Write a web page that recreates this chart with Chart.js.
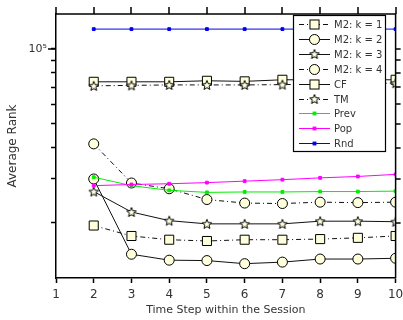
<!DOCTYPE html>
<html>
<head>
<meta charset="utf-8">
<script src="https://cdn.jsdelivr.net/npm/chart.js@4/dist/chart.umd.min.js"></script>
<style>
  html, body { margin: 0; padding: 0; background: #fff; }
  #wrap { width: 403px; height: 320px; }
</style>
</head>
<body>
<div id="wrap"><canvas id="chart" width="403" height="320"></canvas></div>
<script>
// Data
const steps = [2, 3, 4, 5, 6, 7, 8, 9, 10];
const xTicks = [1, 2, 3, 4, 5, 6, 7, 8, 9, 10];
const m2k1 = [19500, 17700, 17100, 16900, 17100, 17100, 17200, 17400, 17700];
const m2k2 = [30000, 14950, 14150, 14100, 13700, 13900, 14300, 14300, 14400];
const m2k3 = [26700, 22100, 20400, 19800, 19800, 19800, 20300, 20300, 20200];
const m2k4 = [41500, 28900, 27400, 24800, 24000, 23900, 24200, 24100, 24200];
const cf = [73700, 73700, 73700, 74400, 74000, 75100, 75100, 75100, 75100];
const tm = [71000, 71300, 71600, 71600, 71600, 71800, 72200, 72500, 72800];
const prev = [30500, 28200, 27000, 26500, 26600, 26600, 26700, 26700, 26800];
const pop = [28200, 28500, 28700, 29000, 29400, 29800, 30300, 30700, 31300];
const rnd = [120000, 120000, 120000, 120000, 120000, 120000, 120000, 120000, 120000];
const yTicks = [20000, 30000, 40000, 50000, 60000, 70000, 80000, 90000, 100000];

const FONT = 'DejaVu Sans';
const CREAM = '#ffffdc';
const DASHDOT = [5, 3, 1, 3];

// five point star used as point style
function makeStar() {
  const c = document.createElement('canvas');
  c.width = 12; c.height = 12;
  const g = c.getContext('2d');
  g.beginPath();
  for (let i = 0; i < 10; i++) {
    const r = i % 2 === 0 ? 5 : 2.2;
    const a = -Math.PI / 2 + i * Math.PI / 5;
    const px = 6 + r * Math.cos(a), py = 6.5 + r * Math.sin(a);
    if (i === 0) g.moveTo(px, py); else g.lineTo(px, py);
  }
  g.closePath();
  g.fillStyle = CREAM;
  g.fill();
  g.strokeStyle = '#000';
  g.lineWidth = 1;
  g.stroke();
  return c;
}
const star = makeStar();

function pts(arr) {
  return arr.map((v, i) => ({ x: steps[i], y: v }));
}

function series(label, arr, opts) {
  return Object.assign({
    label: label,
    data: pts(arr),
    borderColor: '#111',
    borderWidth: 1,
    backgroundColor: CREAM,
    pointBorderColor: '#000',
    pointBorderWidth: 1,
    pointBackgroundColor: CREAM,
    tension: 0,
    fill: false
  }, opts);
}

const datasets = [
  series('Rnd', rnd, { borderColor: '#0000ee', pointStyle: 'rect', pointRadius: 2, pointBorderColor: '#0000ee', pointBackgroundColor: '#0000ee' }),
  series('Pop', pop, { borderColor: '#ff00ff', pointStyle: 'rect', pointRadius: 2, pointBorderColor: '#ff00ff', pointBackgroundColor: '#ff00ff' }),
  series('Prev', prev, { borderColor: '#00ee00', pointStyle: 'rect', pointRadius: 2, pointBorderColor: '#00ee00', pointBackgroundColor: '#00ee00' }),
  series('TM', tm, { borderDash: DASHDOT, pointStyle: star, pointRadius: 6 }),
  series('CF', cf, { pointStyle: 'rect', pointRadius: 6.4 }),
  series('M2: k = 4', m2k4, { borderDash: DASHDOT, pointStyle: 'circle', pointRadius: 5 }),
  series('M2: k = 3', m2k3, { pointStyle: star, pointRadius: 6 }),
  series('M2: k = 2', m2k2, { pointStyle: 'circle', pointRadius: 5 }),
  series('M2: k = 1', m2k1, { borderDash: DASHDOT, pointStyle: 'rect', pointRadius: 6.4 })
];

// legend in the order of the picture
const legendOrder = ['M2: k = 1', 'M2: k = 2', 'M2: k = 3', 'M2: k = 4', 'CF', 'TM', 'Prev', 'Pop', 'Rnd'];

// frame on top/right with outward ticks, long tick at 10^5, boxed legend
const frameAndLegend = {
  id: 'frameAndLegend',
  afterDraw(chart) {
    const ctx = chart.ctx;
    const a = chart.chartArea;
    const xs = chart.scales.x, ys = chart.scales.y;
    ctx.save();
    ctx.setLineDash([]);
    ctx.strokeStyle = '#000';
    ctx.lineWidth = 1.5;
    ctx.beginPath();
    ctx.moveTo(a.left, a.top);
    ctx.lineTo(a.right, a.top);
    ctx.lineTo(a.right, a.bottom);
    ctx.stroke();

    ctx.lineWidth = 1.5;
    ctx.beginPath();
    xTicks.forEach(v => {
      const px = Math.round(xs.getPixelForValue(v));
      ctx.moveTo(px, a.top);
      ctx.lineTo(px, a.top - 7);
    });
    yTicks.forEach(v => {
      const py = Math.round(ys.getPixelForValue(v));
      ctx.moveTo(a.right, py);
      ctx.lineTo(a.right + 5, py);
    });
    const p5 = Math.round(ys.getPixelForValue(100000));
    ctx.moveTo(a.left - 8, p5);
    ctx.lineTo(a.left, p5);
    ctx.stroke();

    const x0 = 293.5, y0 = 15.5, w = 92, h = 136;
    ctx.fillStyle = '#fff';
    ctx.fillRect(x0, y0, w, h);
    ctx.strokeStyle = '#000';
    ctx.lineWidth = 1.2;
    ctx.strokeRect(x0, y0, w, h);
    ctx.font = '10px "' + FONT + '"';
    ctx.textBaseline = 'middle';
    legendOrder.forEach((name, i) => {
      const ds = chart.data.datasets.find(d => d.label === name);
      const ly = Math.round(24 + i * 14.9) + 0.5;
      ctx.strokeStyle = ds.borderColor;
      ctx.lineWidth = 1;
      ctx.setLineDash(ds.borderDash || []);
      ctx.beginPath();
      ctx.moveTo(299, ly);
      ctx.lineTo(330, ly);
      ctx.stroke();
      ctx.setLineDash([]);
      const mx = 314.5;
      ctx.fillStyle = ds.pointBackgroundColor;
      ctx.strokeStyle = ds.pointBorderColor;
      if (ds.pointStyle === 'circle') {
        ctx.beginPath();
        ctx.arc(mx, ly, ds.pointRadius, 0, Math.PI * 2);
        ctx.fill(); ctx.stroke();
      } else if (ds.pointStyle === 'rect') {
        const s = ds.pointRadius * Math.SQRT1_2;
        ctx.fillRect(mx - s, ly - s, 2 * s, 2 * s);
        ctx.strokeRect(mx - s, ly - s, 2 * s, 2 * s);
      } else {
        ctx.drawImage(ds.pointStyle, mx - 6, ly - 6.5);
      }
      ctx.fillStyle = '#333';
      ctx.fillText(name, 334, ly + 1);
    });
    ctx.restore();
  }
};

const tickFont = { family: FONT, size: 12 };

new Chart(document.getElementById('chart'), {
  type: 'line',
  data: { datasets: datasets },
  options: {
    responsive: false,
    animation: false,
    events: [],
    layout: { padding: { top: 14, right: 6, left: 0, bottom: 0 } },
    plugins: { legend: { display: false }, tooltip: { enabled: false } },
    scales: {
      x: {
        type: 'linear',
        position: 'bottom',
        min: 1, max: 10,
        ticks: { stepSize: 1, color: '#333', font: tickFont, padding: 5, maxRotation: 0 },
        grid: { drawOnChartArea: false, tickLength: 5, color: '#000', tickWidth: 1.5 },
        border: { color: '#000', width: 1.5 },
        title: { display: true, text: 'Time Step within the Session', color: '#333', font: { family: FONT, size: 11 }, padding: { top: 0, bottom: 3 } },
        afterFit(s) { s.height = 42; s.paddingLeft = 0; s.paddingRight = 0; }
      },
      y: {
        type: 'logarithmic',
        position: 'left',
        min: 12000, max: 138000,
        afterBuildTicks(s) { s.ticks = yTicks.map(v => ({ value: v })); },
        ticks: {
          color: '#333', font: { family: FONT, size: 11 }, padding: 4,
          callback: v => (v === 100000 ? '10⁵' : '')
        },
        grid: { drawOnChartArea: false, tickLength: 5, color: '#000', tickWidth: 1.5 },
        border: { color: '#000', width: 1.5 },
        title: { display: true, text: 'Average Rank', color: '#333', font: { family: FONT, size: 12 }, padding: { top: 6, bottom: 0 } },
        afterFit(s) { s.width = 56; s.paddingTop = 0; s.paddingBottom = 0; }
      }
    }
  },
  plugins: [frameAndLegend]
});
</script>
</body>
</html>
